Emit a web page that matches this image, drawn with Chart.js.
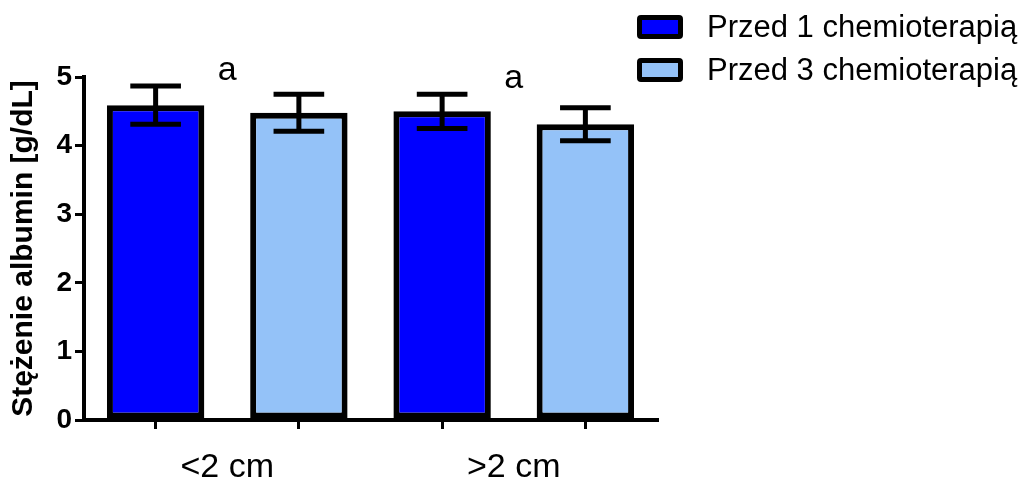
<!DOCTYPE html>
<html><head><meta charset="utf-8">
<script src="https://cdn.jsdelivr.net/npm/chart.js@4"></script>
<style>
html,body{margin:0;padding:0;background:#fff;}
#wrap{position:relative;width:1025px;height:478px;overflow:hidden;background:#fff;}
#legend{position:absolute;left:637px;top:5px;font-family:"Liberation Sans",Arial,sans-serif;font-size:31px;color:#000;}
.item{display:flex;align-items:center;height:43px;white-space:nowrap;}
.box{width:46px;height:24px;box-sizing:border-box;border:5px solid #000;border-radius:4px;margin-right:24px;flex:none;}
</style></head><body>
<div id="wrap"><canvas id="c" width="1025" height="478"></canvas><div id="legend"></div></div>
<script>
const categories = ['<2 cm', '>2 cm'];
const seriesNames = ['Przed 1 chemioterapią', 'Przed 3 chemioterapią'];
const przed1Mean = [4.59, 4.50];
const przed1Err = [0.28, 0.25];
const przed3Mean = [4.48, 4.31];
const przed3Err = [0.27, 0.24];
const significance = ['a', 'a'];
const yTickValues = [0, 1, 2, 3, 4, 5];
const barTickLabels = ['', '', '', ''];
const yTitle = 'Stężenie albumin [g/dL]';

const FONT = '"Liberation Sans", Arial, sans-serif';

const errorBarPlugin = {
  id: 'errorBars',
  afterDatasetsDraw(chart) {
    const ctx = chart.ctx;
    const y = chart.scales.y;
    chart.data.datasets.forEach((ds, di) => {
      const meta = chart.getDatasetMeta(di);
      meta.data.forEach((bar, i) => {
        const v = ds.data[i], e = ds.errors[i];
        const top = y.getPixelForValue(v + e), bot = y.getPixelForValue(v - e);
        const half = bar.width * 0.26;
        ctx.save();
        ctx.strokeStyle = '#000';
        ctx.lineWidth = 5;
        ctx.lineCap = 'butt';
        ctx.beginPath();
        ctx.moveTo(bar.x, top); ctx.lineTo(bar.x, bot);
        ctx.moveTo(bar.x - half, top); ctx.lineTo(bar.x + half, top);
        ctx.moveTo(bar.x - half, bot); ctx.lineTo(bar.x + half, bot);
        ctx.stroke();
        ctx.restore();
      });
    });
    const m0 = chart.getDatasetMeta(0), m1 = chart.getDatasetMeta(1);
    const ds0 = chart.data.datasets[0];
    significance.forEach((txt, i) => {
      if (!txt) return;
      const xc = (m0.data[i].x + m1.data[i].x) / 2;
      const yb = y.getPixelForValue(ds0.data[i] + ds0.errors[i]) - 6;
      ctx.save();
      ctx.fillStyle = '#000';
      ctx.font = '34px ' + FONT;
      ctx.textAlign = 'center';
      ctx.textBaseline = 'alphabetic';
      ctx.fillText(txt, xc, yb);
      ctx.restore();
    });
  }
};

const chart = new Chart(document.getElementById('c'), {
  type: 'bar',
  data: {
    labels: categories,
    datasets: [
      { label: seriesNames[0], data: przed1Mean, errors: przed1Err, xAxisID: 'x', yAxisID: 'y',
        backgroundColor: '#0000FF', borderColor: '#000', borderWidth: 6, borderSkipped: false,
        barPercentage: 0.68, categoryPercentage: 1 },
      { label: seriesNames[1], data: przed3Mean, errors: przed3Err, xAxisID: 'x', yAxisID: 'y',
        backgroundColor: '#94C2F8', borderColor: '#000', borderWidth: 6, borderSkipped: false,
        barPercentage: 0.68, categoryPercentage: 1 }
    ]
  },
  options: {
    responsive: false,
    animation: false,
    layout: { padding: { left: 0, right: 368, top: 77, bottom: 0 } },
    plugins: { legend: { display: false }, tooltip: { enabled: false } },
    scales: {
      x: {
        type: 'category',
        position: 'bottom',
        weight: 1,
        afterFit(s) { s.height = 46; },
        border: { display: false },
        grid: { display: false },
        ticks: { color: '#000', padding: 7, font: { family: FONT, size: 34 } }
      },
      y: {
        min: 0, max: 5,
        afterFit(s) { s.width = 84; },
        afterBuildTicks(s) { s.ticks = yTickValues.map(v => ({ value: v })); },
        border: { display: true, color: '#000', width: 4 },
        grid: { drawOnChartArea: false, drawTicks: true, tickLength: 9, color: '#000', lineWidth: 3 },
        ticks: { color: '#000', padding: 3, font: { family: FONT, size: 28, weight: 'bold' } },
        title: { display: true, text: yTitle, color: '#000', padding: { top: 6, bottom: 0 },
                 font: { family: FONT, size: 30, weight: 'bold' } }
      },
      xTicks: {
        type: 'category',
        labels: barTickLabels,
        position: 'bottom',
        offset: true,
        weight: 0,
        afterFit(s) { s.height = 12; },
        border: { display: true, color: '#000', width: 4 },
        grid: { offset: false, drawOnChartArea: false, drawTicks: true, tickLength: 9, color: '#000', lineWidth: 3 },
        ticks: { display: false }
      }
    }
  },
  plugins: [errorBarPlugin]
});

const legendEl = document.getElementById('legend');
chart.data.datasets.forEach(ds => {
  const item = document.createElement('div');
  item.className = 'item';
  const box = document.createElement('span');
  box.className = 'box';
  box.style.background = ds.backgroundColor;
  const label = document.createElement('span');
  label.textContent = ds.label;
  item.appendChild(box);
  item.appendChild(label);
  legendEl.appendChild(item);
});
</script>
</body></html>
